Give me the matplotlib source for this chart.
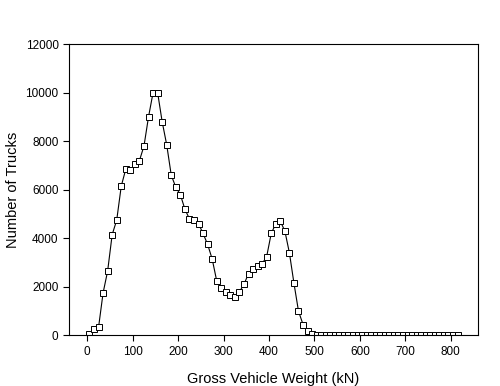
import matplotlib
matplotlib.use('Agg')
import matplotlib.pyplot as plt
import numpy as np

plt.rcParams['font.family'] = ['Liberation Sans', 'DejaVu Sans']

# Gross vehicle weight bins (kN), centred every 10 kN
gvw = np.arange(5, 816, 10)

# Number of trucks per bin
trucks_main = [50, 250, 330, 1750, 2650, 4150, 4750, 6150, 6850, 6800,
               7050, 7200, 7800, 9000, 10000, 10000, 8800, 7850, 6600, 6100,
               5800, 5200, 4800, 4750, 4600, 4200, 3750, 3150, 2250, 1950,
               1800, 1650, 1600, 1800, 2100, 2550, 2750, 2850, 2950, 3250,
               4200, 4600, 4700, 4300, 3400, 2150, 1000, 450, 180, 50]
trucks_tail = [10] * (len(gvw) - len(trucks_main))
trucks = trucks_main + trucks_tail

fig = plt.figure(figsize=(5, 3.86), dpi=100)
ax = fig.add_axes([0.138, 0.131, 0.818, 0.755])

ax.plot(gvw, trucks, color='black', linewidth=0.8, marker='s', markersize=5,
        markerfacecolor='white', markeredgecolor='black', markeredgewidth=0.7)

ax.set_xlim(-40, 860)
ax.set_ylim(0, 12000)
ax.set_xticks(np.arange(0, 801, 100))
ax.set_yticks(np.arange(0, 12001, 2000))
ax.tick_params(direction='out', length=4, width=0.8, labelsize=8.5, top=False, right=False)

ax.set_xlabel('Gross Vehicle Weight (kN)', fontsize=10.5, labelpad=10)
ax.set_ylabel('Number of Trucks', fontsize=10.5, labelpad=4)

for s in ax.spines.values():
    s.set_linewidth(0.8)

fig.savefig('out.png', dpi=100)
